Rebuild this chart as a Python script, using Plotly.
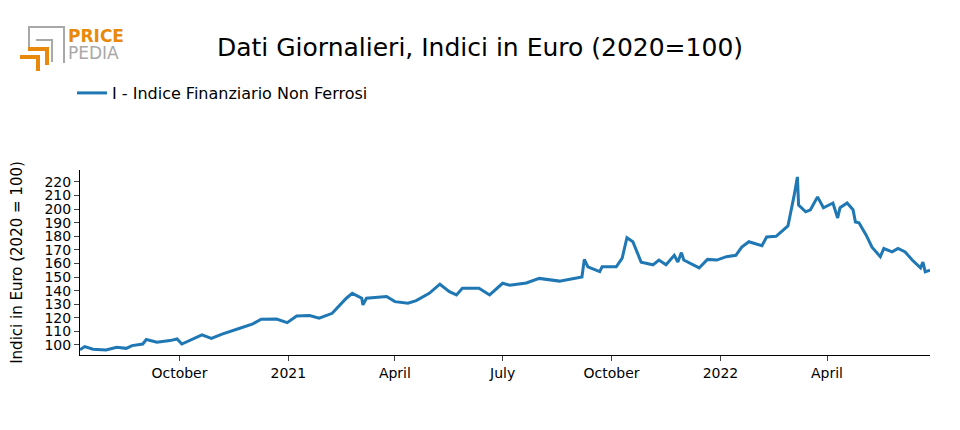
import plotly.graph_objects as go

dates = ["2020-07-09","2020-07-13","2020-07-20","2020-07-31","2020-08-09","2020-08-17","2020-08-22","2020-08-31",
"2020-09-03","2020-09-12","2020-09-23","2020-09-29","2020-10-03","2020-10-12","2020-10-20","2020-10-28","2020-11-06",
"2020-11-21","2020-12-02","2020-12-09","2020-12-22","2020-12-31","2021-01-08","2021-01-19","2021-01-27","2021-02-07",
"2021-02-19","2021-02-24","2021-03-04","2021-03-05","2021-03-08","2021-03-25","2021-04-01","2021-04-12","2021-04-19",
"2021-04-30","2021-05-09","2021-05-17","2021-05-23","2021-05-28","2021-06-11","2021-06-20","2021-07-01","2021-07-07",
"2021-07-21","2021-08-01","2021-08-18","2021-09-06","2021-09-08","2021-09-11","2021-09-21","2021-09-23","2021-10-05",
"2021-10-10","2021-10-14","2021-10-19","2021-10-22","2021-10-26","2021-11-05","2021-11-10","2021-11-16","2021-11-23",
"2021-11-26","2021-11-29","2021-12-01","2021-12-14","2021-12-21","2021-12-29","2022-01-06","2022-01-14","2022-01-19",
"2022-01-25","2022-02-05","2022-02-09","2022-02-17","2022-02-21","2022-02-27","2022-03-04","2022-03-07","2022-03-08",
"2022-03-14","2022-03-18","2022-03-24","2022-03-29","2022-04-06","2022-04-10","2022-04-12","2022-04-18","2022-04-23",
"2022-04-25","2022-04-28","2022-05-04","2022-05-09","2022-05-16","2022-05-19","2022-05-26","2022-05-31","2022-06-06",
"2022-06-12","2022-06-19","2022-06-21","2022-06-23","2022-06-27"]
values = [96.5,98.8,96.8,96.3,98.3,97.5,99.5,100.7,
104,102,103.2,104.4,100.7,104.4,107.4,104.9,108,
112.3,115.5,119,119.1,116.4,121.3,121.6,119.7,123.3,
134.4,138,134.4,129.5,134.4,135.6,131.9,130.7,132.6,
138,144.7,139.2,136.8,141.7,141.7,136.8,145.4,144,
145.6,149,147,150,163,157.5,154,157.5,157.5,
164,179,176,170,161,159,162.5,159,166,
161,168,162.5,156.7,163,162.5,165,166,172,
176,173,179.5,180,183,187.6,209,223.7,203,
198,199.5,209,201,204.5,193.5,201,204.5,199.5,
190.6,190,181,172,165,171,168.5,171,168.5,
162.5,156.7,161,153.8,155]
series_name = "I - Indice Finanziario Non Ferrosi"
tick_dates = ["2020-10-01","2021-01-01","2021-04-01","2021-07-01","2021-10-01","2022-01-01","2022-04-01"]
tick_labels = ["October","2021","April","July","October","2022","April"]

OFF = 8  # page offset of the figure
L, R, T, B = 80 - OFF, 30 + OFF, 170 - OFF, 75 + OFF
W, H = 960 - L - R, 430 - T - B
def px(x): return (x - OFF - L) / W
def py(y): return (430 - B - (y - OFF)) / H

fig = go.Figure(go.Scatter(x=dates, y=values, mode="lines", name=series_name,
                           line=dict(color="#1f77b4", width=3)))
fig.update_layout(
    width=960, height=430, plot_bgcolor="white", paper_bgcolor="white",
    font=dict(family="DejaVu Sans", size=14, color="black"),
    margin=dict(l=L, r=R, t=T, b=B, autoexpand=False),
    title=dict(text="Dati Giornalieri, Indici in Euro (2020=100)", x=(480 - OFF) / 960, xanchor="center",
               y=1 - (47 - OFF) / 430, yanchor="middle", font=dict(size=25)),
    showlegend=True,
    legend=dict(orientation="h", x=px(72), xanchor="left", y=py(93), yanchor="middle",
                font=dict(size=16)),
    xaxis=dict(range=["2020-07-09","2022-06-27"], tickvals=tick_dates, ticktext=tick_labels,
               showline=True, linecolor="black", ticks="outside", showgrid=False, zeroline=False,
               automargin=False),
    yaxis=dict(range=[92.6, 228.8], dtick=10, tick0=100, showline=True, linecolor="black",
               ticks="outside", showgrid=False, zeroline=False, automargin=False,
               title=dict(text="Indici in Euro (2020 = 100)", standoff=20, font=dict(size=15))),
)
def path(pts):
    return "M " + " L ".join(f"{px(x):.4f},{py(y):.4f}" for x, y in pts)
grey = "#a8a8a8"; orange = "#e8890c"
fig.add_shape(type="path", xref="paper", yref="paper", path=path([(29, 50), (29, 27), (64, 27), (64, 63)]),
              line=dict(color=grey, width=2))
fig.add_shape(type="path", xref="paper", yref="paper", path=path([(36, 40), (52, 40), (52, 62)]),
              line=dict(color=grey, width=2))
fig.add_shape(type="path", xref="paper", yref="paper", path=path([(28, 49), (47, 49), (47, 65)]),
              line=dict(color=orange, width=4))
fig.add_shape(type="path", xref="paper", yref="paper", path=path([(20, 57), (38, 57), (38, 71)]),
              line=dict(color=orange, width=4))
fig.add_annotation(xref="paper", yref="paper", x=px(66), y=py(36), xanchor="left", yanchor="middle",
                   text="<b>PRICE</b>", showarrow=False, font=dict(color=orange, size=17))
fig.add_annotation(xref="paper", yref="paper", x=px(66), y=py(53), xanchor="left", yanchor="middle",
                   text="PEDIA", showarrow=False, font=dict(color=grey, size=17))
fig.write_html("out.html")
